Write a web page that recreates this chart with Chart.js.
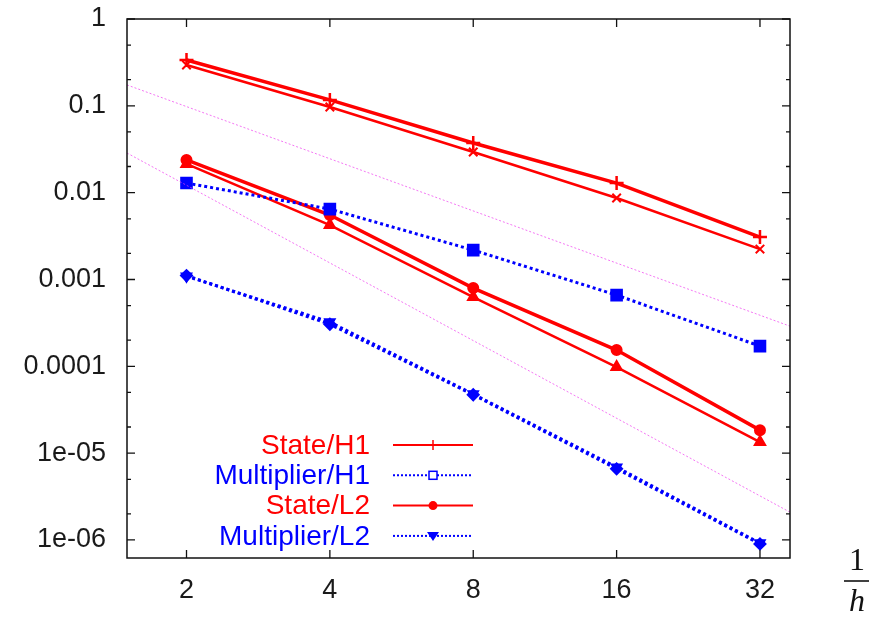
<!DOCTYPE html>
<html>
<head>
<meta charset="utf-8">
<script src="https://cdn.jsdelivr.net/npm/chart.js@4/dist/chart.umd.min.js"></script>
<style>
  html, body { margin: 0; padding: 0; background: #fff; }
  #wrap { width: 875px; height: 621px; }
</style>
</head>
<body>
<div id="wrap"><canvas id="convChart" width="875" height="621"></canvas></div>
<script>
// mesh refinement 1/h
const xValues = [2, 4, 8, 16, 32];

// errors
const stateH1      = [0.337, 0.117, 0.0373, 0.0129, 0.00308];
const stateH1b     = [0.295, 0.0969, 0.0294, 0.00867, 0.00224];
const stateL2      = [0.0238, 0.00552, 0.000796, 0.000154, 1.84e-5];
const stateL2b     = [0.0214, 0.00423, 0.000627, 9.8e-5, 1.34e-5];
const multiplierH1 = [0.0129, 0.00647, 0.00218, 0.000661, 0.000171];
const multiplierL2 = [0.00109, 0.000323, 4.79e-5, 6.9e-6, 9.2e-7];
const multiplierL2b = [0.00111, 0.000305, 4.7e-5, 6.6e-6, 9.0e-7];

// reference slopes, from the left to the right border
const refX  = [1.5, 37];
const refH2 = [0.174, 2.9e-4];
const refH3 = [0.0286, 2.09e-6];

const xTicks = [2, 4, 8, 16, 32];
const yTicks = [1, 0.1, 0.01, 0.001, 0.0001, 1e-5, 1e-6];
const yTickLabels = ['1', '0.1', '0.01', '0.001', '0.0001', '1e-05', '1e-06'];
const yMinorFactors = [2, 5];

const RED = '#ff0000';
const BLUE = '#0000ff';
const FONT = '"Liberation Sans", Arimo, Helvetica, Arial, sans-serif';

function pts(ys, xs) {
  xs = xs || xValues;
  return ys.map((y, i) => ({x: xs[i], y: y}));
}

function series(label, ys, color, opts) {
  return Object.assign({
    label: label,
    data: pts(ys),
    showLine: true,
    borderColor: color,
    backgroundColor: color,
    pointBorderColor: color,
    pointBackgroundColor: color,
    borderWidth: 2.5,
    pointRadius: 5,
    pointBorderWidth: 2,
    legend: false
  }, opts);
}

const datasets = [
  {
    label: 'ref h^2', data: pts(refH2, refX), showLine: true,
    borderColor: 'rgba(240,60,240,0.7)', borderWidth: 1, borderDash: [2, 2],
    pointRadius: 0, legend: false
  },
  {
    label: 'ref h^3', data: pts(refH3, refX), showLine: true,
    borderColor: 'rgba(240,60,240,0.7)', borderWidth: 1, borderDash: [2, 2],
    pointRadius: 0, legend: false
  },
  series('', multiplierL2b, BLUE, {borderDash: [3, 3], borderWidth: 3, pointStyle: 'rectRot', pointRadius: 5.5}),
  series('Multiplier/L2', multiplierL2, BLUE, {borderDash: [3, 3], borderWidth: 3, pointStyle: 'triangle', rotation: 180, pointRadius: 5.5, legend: true, legendStyle: 'tridown'}),
  series('Multiplier/H1', multiplierH1, BLUE, {borderDash: [3, 3], borderWidth: 3, pointStyle: 'rect', pointRadius: 7.5, legend: true, legendStyle: 'opensquare'}),
  series('', stateL2b, RED, {pointStyle: 'triangle', pointRadius: 6}),
  series('State/L2', stateL2, RED, {borderWidth: 3.5, pointStyle: 'circle', pointRadius: 5, legend: true, legendStyle: 'dot'}),
  series('', stateH1b, RED, {pointStyle: 'crossRot', pointRadius: 6}),
  series('State/H1', stateH1, RED, {borderWidth: 3.5, pointStyle: 'cross', pointRadius: 7, pointBorderWidth: 2.5, legend: true, legendStyle: 'tick'})
];

// legend order as in the picture
const legendOrder = ['State/H1', 'Multiplier/H1', 'State/L2', 'Multiplier/L2'];

const framePlugin = {
  id: 'frame',
  afterDraw(chart) {
    const ctx = chart.ctx;
    const a = chart.chartArea;
    const xs = chart.scales.x, ys = chart.scales.y;
    ctx.save();
    ctx.strokeStyle = '#111';
    ctx.lineWidth = 1.5;
    ctx.setLineDash([]);
    ctx.strokeRect(a.left, a.top, a.right - a.left, a.bottom - a.top);

    ctx.lineWidth = 1.3;
    ctx.beginPath();
    xTicks.forEach(v => {
      const px = xs.getPixelForValue(v);
      ctx.moveTo(px, a.bottom); ctx.lineTo(px, a.bottom - 8);
      ctx.moveTo(px, a.top); ctx.lineTo(px, a.top + 8);
    });
    yTicks.forEach(v => {
      const py = ys.getPixelForValue(v);
      ctx.moveTo(a.left, py); ctx.lineTo(a.left + 8, py);
      ctx.moveTo(a.right, py); ctx.lineTo(a.right - 8, py);
      yMinorFactors.forEach(f => {
        const mv = v * f;
        if (mv > 1) return;
        const my = ys.getPixelForValue(mv);
        ctx.moveTo(a.left, my); ctx.lineTo(a.left + 4, my);
        ctx.moveTo(a.right, my); ctx.lineTo(a.right - 4, my);
      });
    });
    ctx.stroke();

    // legend, inside the plot, text right aligned
    const textRight = a.left + 243;
    const lineX0 = a.left + 266, lineX1 = a.left + 346, markX = a.left + 306;
    let rowY = a.bottom - 113;
    ctx.font = '28px ' + FONT;
    ctx.textAlign = 'right';
    ctx.textBaseline = 'middle';
    legendOrder.forEach(name => {
      const ds = chart.data.datasets.find(d => d.label === name);
      const col = ds.borderColor;
      ctx.fillStyle = col;
      ctx.fillText(name, textRight, rowY + 1);
      ctx.strokeStyle = col;
      ctx.fillStyle = col;
      if (ds.borderDash) {
        ctx.setLineDash([2, 2]);
        ctx.lineWidth = 2;
      } else {
        ctx.setLineDash([]);
        ctx.lineWidth = 2;
      }
      ctx.beginPath();
      ctx.moveTo(lineX0, rowY); ctx.lineTo(lineX1, rowY);
      ctx.stroke();
      ctx.setLineDash([]);
      ctx.beginPath();
      if (ds.legendStyle === 'tick') {
        ctx.lineWidth = 1.5;
        ctx.moveTo(markX, rowY - 5); ctx.lineTo(markX, rowY + 5);
        ctx.stroke();
      } else if (ds.legendStyle === 'opensquare') {
        ctx.fillStyle = '#fff';
        ctx.fillRect(markX - 4, rowY - 4, 8, 8);
        ctx.lineWidth = 1.5;
        ctx.strokeRect(markX - 4, rowY - 4, 8, 8);
      } else if (ds.legendStyle === 'dot') {
        ctx.arc(markX, rowY, 4.5, 0, Math.PI * 2);
        ctx.fill();
      } else if (ds.legendStyle === 'tridown') {
        ctx.moveTo(markX - 6, rowY - 4);
        ctx.lineTo(markX + 6, rowY - 4);
        ctx.lineTo(markX, rowY + 5);
        ctx.closePath();
        ctx.fill();
      }
      rowY += 30.3;
    });

    // axis title 1/h as a fraction
    ctx.fillStyle = '#111';
    ctx.textAlign = 'center';
    ctx.textBaseline = 'middle';
    ctx.font = '32px "Liberation Serif", "DejaVu Serif", serif';
    ctx.fillText('1', 857, 562);
    ctx.font = 'italic 32px "Liberation Serif", "DejaVu Serif", serif';
    ctx.fillText('h', 857, 603);
    ctx.lineWidth = 1.6;
    ctx.strokeStyle = '#111';
    ctx.beginPath();
    ctx.moveTo(844, 581); ctx.lineTo(869, 581);
    ctx.stroke();
    ctx.restore();
  }
};

new Chart('convChart', {
  type: 'scatter',
  data: { datasets: datasets },
  options: {
    responsive: false,
    animation: false,
    layout: { padding: { top: 19, right: 85, left: 0, bottom: 0 } },
    plugins: {
      legend: { display: false },
      tooltip: { enabled: false }
    },
    scales: {
      x: {
        type: 'logarithmic',
        min: 1.5,
        max: 37,
        grid: { display: false, drawTicks: false },
        border: { display: false },
        afterBuildTicks: s => { s.ticks = xTicks.map(v => ({value: v})); },
        afterFit: s => { s.height = 63; s.paddingLeft = 0; s.paddingRight = 0; },
        ticks: {
          padding: 16,
          color: '#1a1a1a',
          font: { family: FONT, size: 27 },
          maxRotation: 0,
          autoSkip: false,
          callback: v => String(v)
        }
      },
      y: {
        type: 'logarithmic',
        min: 6.2e-7,
        max: 1,
        grid: { display: false, drawTicks: false },
        border: { display: false },
        afterBuildTicks: s => { s.ticks = yTicks.map(v => ({value: v})); },
        afterFit: s => { s.width = 127; s.paddingTop = 0; s.paddingBottom = 0; },
        ticks: {
          padding: 21,
          color: '#1a1a1a',
          font: { family: FONT, size: 27 },
          autoSkip: false,
          callback: v => {
            const i = yTicks.findIndex(t => Math.abs(t - v) / t < 1e-6);
            return i >= 0 ? yTickLabels[i] : '';
          }
        }
      }
    }
  },
  plugins: [framePlugin]
});
</script>
</body>
</html>
